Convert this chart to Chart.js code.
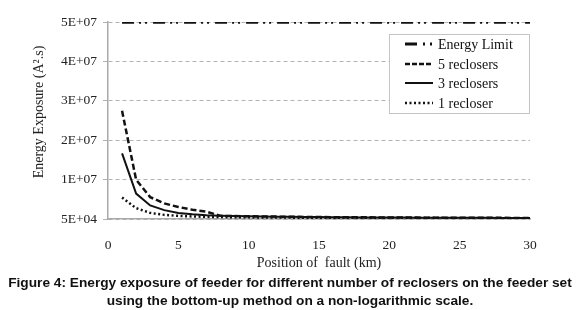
<!DOCTYPE html>
<html>
<head>
<meta charset="utf-8">
<script src="https://cdn.jsdelivr.net/npm/chart.js@4.4.1/dist/chart.umd.min.js"></script>
<style>
  html, body { margin: 0; padding: 0; background: #fff; }
  #wrap { position: relative; width: 580px; height: 310px; }
  #chart { position: absolute; left: 0; top: 0; }
  #caption {
    position: absolute; left: 0; top: 274px; width: 580px;
    text-align: center; font: bold 13.7px "Liberation Sans", Arial, sans-serif;
    line-height: 17.5px; color: #111;
  }
</style>
</head>
<body>
<div id="wrap">
  <canvas id="chart" width="580" height="310"></canvas>
  <div id="caption">Figure 4: Energy exposure of feeder for different number of reclosers on the feeder set<br>using the bottom-up method on a non-logarithmic scale.</div>
</div>
<script>
// ===== DATA =====
var faultKm = [1, 2, 3, 4, 5, 6, 7, 8, 9, 10, 11, 12, 13, 14, 15, 16, 17, 18, 19, 20, 21, 22, 23, 24, 25, 26, 27, 28, 29, 30];
var energyLimit = [5.0e7, 5.0e7, 5.0e7, 5.0e7, 5.0e7, 5.0e7, 5.0e7, 5.0e7, 5.0e7, 5.0e7, 5.0e7, 5.0e7, 5.0e7, 5.0e7, 5.0e7,
                   5.0e7, 5.0e7, 5.0e7, 5.0e7, 5.0e7, 5.0e7, 5.0e7, 5.0e7, 5.0e7, 5.0e7, 5.0e7, 5.0e7, 5.0e7, 5.0e7, 5.0e7];
var fiveReclosers = [2.75e7, 1.0e7, 0.56e7, 0.4e7, 0.31e7, 0.24e7, 0.19e7, 0.085e7, 0.08e7, 0.075e7, 0.07e7, 0.066e7, 0.062e7, 0.058e7, 0.055e7,
                     0.052e7, 0.05e7, 0.048e7, 0.046e7, 0.044e7, 0.042e7, 0.04e7, 0.039e7, 0.038e7, 0.037e7, 0.036e7, 0.035e7, 0.034e7, 0.033e7, 0.032e7];
var threeReclosers = [1.67e7, 0.65e7, 0.35e7, 0.23e7, 0.16e7, 0.125e7, 0.1e7, 0.09e7, 0.082e7, 0.075e7, 0.069e7, 0.064e7, 0.06e7, 0.056e7, 0.053e7,
                      0.05e7, 0.048e7, 0.046e7, 0.044e7, 0.042e7, 0.04e7, 0.039e7, 0.038e7, 0.037e7, 0.036e7, 0.035e7, 0.034e7, 0.033e7, 0.032e7, 0.031e7];
var oneRecloser = [0.55e7, 0.28e7, 0.16e7, 0.11e7, 0.085e7, 0.07e7, 0.06e7, 0.055e7, 0.05e7, 0.047e7, 0.044e7, 0.042e7, 0.04e7, 0.038e7, 0.036e7,
                   0.035e7, 0.034e7, 0.033e7, 0.032e7, 0.031e7, 0.03e7, 0.029e7, 0.028e7, 0.027e7, 0.026e7, 0.025e7, 0.024e7, 0.023e7, 0.022e7, 0.021e7];
var yMin = 50000, yMax = 50050000, yStep = 1e7;
var xMin = 0, xMax = 30, xStep = 5;
var yTitle = 'Energy Exposure (A\u00B2.s)';

// ===== HELPERS =====
function toPoints(arr) {
  var out = [];
  for (var i = 0; i < arr.length; i++) out.push({ x: faultKm[i], y: arr[i] });
  return out;
}
function sciLabel(v) {
  if (v === 0) return '0E+00';
  var e = Math.floor(Math.log10(Math.abs(v)));
  var m = Math.round(v / Math.pow(10, e));
  if (m === 10) { m = 1; e++; }
  return m + 'E+' + (e < 10 ? '0' : '') + e;
}
function series(label, data, dash, width) {
  return {
    label: label,
    data: toPoints(data),
    borderColor: '#111',
    backgroundColor: '#111',
    borderDash: dash,
    borderWidth: width,
    pointRadius: 0,
    tension: 0,
    fill: false
  };
}

var serifFamily = '"Liberation Serif", "Times New Roman", serif';

// ===== LEGEND (boxed, inside plot) + Y TITLE =====
var boxLegend = {
  id: 'boxLegend',
  afterDatasetsDraw: function(chart) {
    var ctx = chart.ctx;
    var x0 = 389.5, y0 = 34.5, w = 140, h = 79;
    ctx.save();
    ctx.fillStyle = '#fff';
    ctx.fillRect(x0, y0, w, h);
    ctx.strokeStyle = '#c4c4c4';
    ctx.lineWidth = 1;
    ctx.setLineDash([]);
    ctx.strokeRect(x0, y0, w, h);
    var rows = [44, 64, 83, 103];
    var ds = chart.data.datasets;
    ctx.font = '14px ' + serifFamily;
    ctx.textBaseline = 'middle';
    for (var i = 0; i < ds.length; i++) {
      ctx.beginPath();
      ctx.setLineDash(ds[i].legendDash || ds[i].borderDash);
      ctx.lineWidth = ds[i].borderWidth;
      ctx.strokeStyle = '#111';
      ctx.moveTo(405, rows[i]);
      ctx.lineTo(433, rows[i]);
      ctx.stroke();
      ctx.setLineDash([]);
      ctx.fillStyle = '#111';
      ctx.fillText(ds[i].label, 438, rows[i] + 1);
    }
    // y axis title, sits a little above the plot centre like the original
    ctx.translate(39, 112);
    ctx.rotate(-Math.PI / 2);
    ctx.textAlign = 'center';
    ctx.fillStyle = '#222';
    ctx.font = '14px ' + serifFamily;
    ctx.fillText(yTitle, 0, 0);
    ctx.restore();
  }
};

// ===== CHART =====
var limitSet = series('Energy Limit', energyLimit, [12, 5, 2, 4, 2, 6], 3);
limitSet.legendDash = [12, 6, 2, 5, 2, 6];
var fiveSet = series('5 reclosers', fiveReclosers, [6, 3], 2.5);
fiveSet.legendDash = [5, 2];
var threeSet = series('3 reclosers', threeReclosers, [], 2);
var oneSet = series('1 recloser', oneRecloser, [2, 2.5], 2.5);

var tickFont = { family: serifFamily, size: 13.5 };

new Chart(document.getElementById('chart'), {
  type: 'line',
  data: { datasets: [limitSet, fiveSet, threeSet, oneSet] },
  options: {
    responsive: false,
    animation: false,
    layout: { padding: { left: 0, right: 50, top: 22, bottom: 38 } },
    plugins: { legend: { display: false }, tooltip: { enabled: false } },
    scales: {
      x: {
        type: 'linear',
        min: xMin, max: xMax,
        ticks: { stepSize: xStep, font: tickFont, color: '#222', padding: 10, maxRotation: 0 },
        grid: { display: false },
        border: { display: true, color: '#a9a9a9', width: 1.5 },
        title: { display: true, text: 'Position of  fault (km)', font: { family: serifFamily, size: 14 }, color: '#222', padding: { top: 0, bottom: 0 } },
        afterFit: function(s) { s.height = 53; }
      },
      y: {
        min: yMin, max: yMax,
        ticks: { stepSize: yStep, font: tickFont, color: '#222', padding: 6, callback: function(v) { return sciLabel(v); } },
        grid: { color: '#b3b3b3', lineWidth: 1, tickLength: 5, tickColor: '#b3b3b3' },
        border: { display: true, color: '#a9a9a9', width: 1.5, dash: [4, 3] },
        afterFit: function(s) { s.width = 108; }
      }
    }
  },
  plugins: [boxLegend]
});
</script>
</body>
</html>
